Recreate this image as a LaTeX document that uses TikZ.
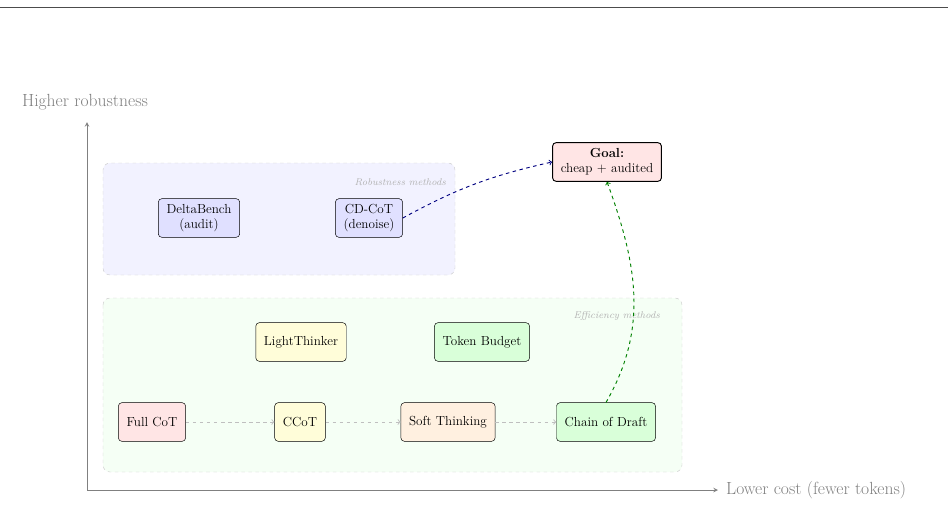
\documentclass[tikz,border=0pt]{standalone}
\usetikzlibrary{positioning}
\tikzset{method/.style={draw,rounded corners=3pt,align=center,font=\fontsize{11.2}{13}\selectfont,inner xsep=7pt,inner ysep=4pt,minimum height=33pt}}
\tikzset{region/.style={draw=black!20,dashed,rounded corners=6pt}}
\tikzset{flow/.style={->,>=to,dashed,black!25,thick}}
\tikzset{eaxis/.style={->,>=stealth,black!50,thick}}
\begin{document}
\begin{tikzpicture}[x=0.03cm,y=-0.03cm]
        \useasboundingbox (0,0) rectangle (948,529);
        % top rule
        \draw[black!70,thick] (0,7) -- (948,7);
        % method regions
        \draw[region,fill=blue!5] (103,163) rectangle (455,275);
        \node[font=\fontsize{8.4}{10}\selectfont\itshape,text=black!30,anchor=east] (rlab) at (450,182) {Robustness methods};
        \draw[region,fill=green!4] (103,298) rectangle (682,472);
        \node[font=\fontsize{8.4}{10}\selectfont\itshape,text=black!30,anchor=east] (elab) at (664,316) {Efficiency methods};
        % draw the axis
        \coordinate (o) at (87,490);
        \coordinate (ytop) at (87,122);
        \coordinate (xend) at (718,490);
        \draw[eaxis] (o) -- (ytop);
        \draw[eaxis] (o) -- (xend);
        \node[text=black!50,font=\fontsize{15}{18}\selectfont] (ylab) at (85,102) {Higher robustness};
        \node[text=black!50,anchor=west,font=\fontsize{15}{18}\selectfont] (xlab) at (722,490) {Lower cost (fewer tokens)};
        % methods
        \node[method,fill=blue!12] (delta) at (199,218) {DeltaBench\\(audit)};
        \node[method,fill=blue!12] (cdcot) at (369,218) {CD-CoT\\(denoise)};
        \node[method,fill=red!10,thick] (goal) at (607,162) {\textbf{Goal:}\\cheap + audited};
        \node[method,fill=yellow!15] (light) at (301,342) {LightThinker};
        \node[method,fill=green!15] (budget) at (482,342) {Token Budget};
        \node[method,fill=red!10] (full) at (152,422) {Full CoT};
        \node[method,fill=yellow!15] (ccot) at (300,422) {CCoT};
        \node[method,fill=orange!12] (soft) at (448,422) {Soft Thinking};
        \node[method,fill=green!15] (draft) at (606,422) {Chain of Draft};
        % connectors
        \draw[flow] (full) -- (ccot);
        \draw[flow] (ccot) -- (soft);
        \draw[flow] (soft) -- (draft);
        \draw[->,>=to,dashed,thick,blue!50!black] (cdcot.east) to[bend left=8] (goal.west);
        \draw[->,>=to,dashed,thick,green!50!black] (draft.north) to[out=60,in=-70] (goal.south);
    \end{tikzpicture}
\end{document}
